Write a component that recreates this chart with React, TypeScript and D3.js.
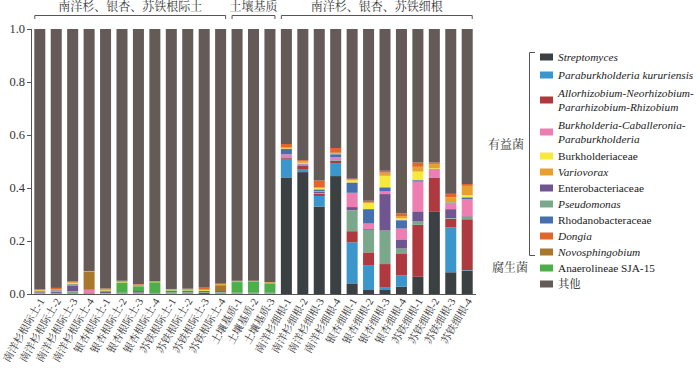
import React from "react";
import * as d3 from "d3";

const samples = [
  "南洋杉根际土-1", "南洋杉根际土-2", "南洋杉根际土-3", "南洋杉根际土-4",
  "银杏根际土-1", "银杏根际土-2", "银杏根际土-3", "银杏根际土-4",
  "苏铁根际土-1", "苏铁根际土-2", "苏铁根际土-3", "苏铁根际土-4",
  "土壤基质-1", "土壤基质-2", "土壤基质-3",
  "南洋杉细根-1", "南洋杉细根-2", "南洋杉细根-3", "南洋杉细根-4",
  "银杏细根-1", "银杏细根-2", "银杏细根-3", "银杏细根-4",
  "苏铁细根-1", "苏铁细根-2", "苏铁细根-3", "苏铁细根-4",
];

const groups = [
  { label: "南洋杉、银杏、苏铁根际土", from: 0, to: 11 },
  { label: "土壤基质", from: 12, to: 14 },
  { label: "南洋杉、银杏、苏铁细根", from: 15, to: 26 },
];

// legend order
const taxa = [
  "Streptomyces",
  "Paraburkholderia kururiensis",
  "Allorhizobium-Neorhizobium-Pararhizobium-Rhizobium",
  "Burkholderia-Caballeronia-Paraburkholderia",
  "Burkholderiaceae",
  "Variovorax",
  "Enterobacteriaceae",
  "Pseudomonas",
  "Rhodanobacteraceae",
  "Dongia",
  "Novosphingobium",
  "Anaerolineae SJA-15",
  "其他",
];
const legendLines = [
  ["Streptomyces"],
  ["Paraburkholderia kururiensis"],
  ["Allorhizobium-Neorhizobium-", "Pararhizobium-Rhizobium"],
  ["Burkholderia-Caballeronia-", "Paraburkholderia"],
  ["Burkholderiaceae"],
  ["Variovorax"],
  ["Enterobacteriaceae"],
  ["Pseudomonas"],
  ["Rhodanobacteraceae"],
  ["Dongia"],
  ["Novosphingobium"],
  ["Anaerolineae SJA-15"],
  ["其他"],
];
const italic = [true, true, true, true, false, true, false, true, false, true, true, false, false];
const colors = [
  "#3b4042", "#3b96cc", "#ae3a3f", "#ee7eb1", "#f7e83c", "#e7a02f", "#6f5690",
  "#7ba78b", "#466fae", "#e0662b", "#a7782c", "#4caf4a", "#645a57",
];

// relative abundance of each taxon per sample (其他 = remainder)
const streptomyces = [0, 0, 0, 0, 0, 0, 0, 0, 0, 0, 0, 0, 0, 0, 0, 0.44, 0.46, 0.33, 0.445, 0.04, 0.015, 0.015, 0.028, 0.065, 0.31, 0.082, 0.088];
const paraburkholderia = [0, 0, 0, 0, 0, 0, 0, 0, 0, 0, 0, 0, 0, 0, 0, 0.07, 0.009, 0.04, 0.049, 0.155, 0.094, 0.009, 0.042, 0, 0, 0.169, 0.002];
const allorhizobium = [0.001, 0.002, 0.002, 0.001, 0.001, 0, 0.001, 0, 0.001, 0, 0.004, 0.002, 0, 0, 0, 0.003, 0.015, 0.009, 0.009, 0.042, 0.048, 0.089, 0.081, 0.196, 0.128, 0.033, 0.192];
const burkCab = [0.001, 0.001, 0.002, 0.012, 0, 0, 0, 0, 0, 0, 0, 0, 0, 0, 0, 0.009, 0.002, 0.003, 0.01, 0.054, 0.021, 0.01, 0.042, 0.113, 0.029, 0.023, 0.065];
const burkholderiaceae = [0.002, 0.001, 0.004, 0, 0.003, 0.002, 0.001, 0.001, 0.002, 0.002, 0.003, 0, 0, 0, 0, 0.002, 0.004, 0.006, 0.002, 0.009, 0.023, 0.044, 0.008, 0.033, 0.003, 0.002, 0.009];
const variovorax = [0.003, 0.004, 0.004, 0.002, 0.004, 0.004, 0.005, 0.003, 0.003, 0.003, 0.004, 0.004, 0.003, 0.003, 0.004, 0.005, 0.006, 0.003, 0.004, 0.003, 0.003, 0.012, 0.008, 0.018, 0.016, 0.018, 0.035];
const enterobacteriaceae = [0.003, 0.004, 0.022, 0.002, 0.006, 0.003, 0.006, 0.002, 0.004, 0.005, 0.004, 0.005, 0.003, 0.003, 0.003, 0.002, 0.002, 0.004, 0.002, 0.013, 0.003, 0.138, 0.034, 0.038, 0.002, 0.034, 0.002];
const pseudomonas = [0.002, 0.002, 0.008, 0.001, 0.003, 0.002, 0.004, 0.002, 0.006, 0.006, 0.003, 0.004, 0.002, 0.002, 0.002, 0.003, 0.001, 0.002, 0.002, 0.078, 0.085, 0.126, 0.02, 0.012, 0.002, 0.002, 0.009];
const rhodanobacteraceae = [0.002, 0.002, 0.002, 0, 0.001, 0, 0, 0, 0, 0, 0, 0, 0, 0, 0, 0.02, 0.002, 0.006, 0.01, 0.038, 0.054, 0.015, 0.031, 0.005, 0.001, 0.002, 0.006];
const dongia = [0.001, 0.004, 0.001, 0.001, 0.002, 0.001, 0.002, 0, 0.001, 0.002, 0.005, 0.002, 0.002, 0.001, 0.001, 0.012, 0.004, 0.025, 0.018, 0.003, 0.006, 0.007, 0.01, 0.016, 0.005, 0.013, 0.007];
const novosphingobium = [0.001, 0.002, 0.001, 0.068, 0, 0, 0, 0, 0, 0, 0, 0.022, 0, 0, 0, 0, 0, 0, 0, 0, 0, 0, 0, 0, 0, 0, 0];
const anaerolineae = [0.001, 0.001, 0.001, 0, 0.001, 0.038, 0.018, 0.04, 0.002, 0.002, 0.001, 0, 0.04, 0.041, 0.035, 0, 0, 0, 0, 0, 0, 0, 0, 0, 0, 0, 0];

const series = [
  streptomyces, paraburkholderia, allorhizobium, burkCab, burkholderiaceae, variovorax,
  enterobacteriaceae, pseudomonas, rhodanobacteraceae, dongia, novosphingobium, anaerolineae,
];

// bottom -> top stacking order (indices into taxa)
const stackOrder = [0, 1, 2, 7, 6, 3, 11, 10, 8, 4, 5, 9, 12];

const yTicks = [0, 0.2, 0.4, 0.6, 0.8, 1.0];

const font = { fontFamily: '"Liberation Serif", "Noto Serif CJK SC", "Noto Sans CJK SC", serif' };

export default function App() {
  const width = 700;
  const height = 379;
  const left = 31;
  const right = 476;
  const top = 29;
  const bottom = 294;

  const table = samples.map((s, i) => {
    const row: any = { sample: s };
    let sum = 0;
    series.forEach((arr, k) => {
      row[taxa[k]] = arr[i];
      sum += arr[i];
    });
    row["其他"] = 1 - sum;
    return row;
  });

  const stack = d3
    .stack()
    .keys(taxa)
    .order(() => stackOrder.slice())(table);

  const x = d3
    .scaleBand()
    .domain(samples)
    .range([left, right])
    .paddingInner(0.33)
    .paddingOuter(0.2);
  const y = d3.scaleLinear().domain([0, 1]).range([bottom, top]);

  const legendY = [57, 75, 100, 132, 156, 172, 188, 204, 220, 236, 252, 268, 284];

  return (
    <svg
      width={width}
      height={height}
      style={{ position: "absolute", left: 0, top: 0, background: "#fff" }}
    >
      {stack.map((layer: any) => {
        const k = taxa.indexOf(layer.key);
        return (
          <g key={layer.key} fill={colors[k]}>
            {layer.map((d: any, i: number) => (
              <rect
                key={i}
                x={x(samples[i])}
                y={y(d[1])}
                width={x.bandwidth()}
                height={Math.max(0, y(d[0]) - y(d[1]))}
              />
            ))}
          </g>
        );
      })}

      {/* axes */}
      <g stroke="#555" strokeWidth={1} fill="none">
        <line x1={left + 0.5} x2={left + 0.5} y1={top} y2={bottom} />
        <line x1={left} x2={right} y1={bottom + 0.5} y2={bottom + 0.5} />
        {yTicks.map((t) => (
          <line key={t} x1={left - 4} x2={left} y1={y(t) + 0.5} y2={y(t) + 0.5} />
        ))}
      </g>
      {yTicks.map((t) => (
        <text key={t} x={left - 6} y={y(t)} dy="0.35em" textAnchor="end" fontSize={12.5} fill="#333" style={font}>
          {t.toFixed(1)}
        </text>
      ))}
      {samples.map((s) => {
        const cx = (x(s) as number) + x.bandwidth() / 2 + 2;
        return (
          <text
            key={s}
            transform={`translate(${cx},${bottom + 5}) rotate(-60)`}
            textAnchor="end"
            dy="0.35em"
            fontSize={10.5}
            fill="#333"
            style={font}
          >
            {s}
          </text>
        );
      })}

      {/* group brackets */}
      {groups.map((g) => {
        const x0 = x(samples[g.from]) as number;
        const x1 = (x(samples[g.to]) as number) + x.bandwidth();
        return (
          <g key={g.label}>
            <path
              d={`M${x0 + 0.5},19 V15.5 H${x1 - 0.5} V19`}
              fill="none"
              stroke="#555"
              strokeWidth={1}
            />
            <text x={(x0 + x1) / 2} y={11} textAnchor="middle" fontSize={12} fill="#333" style={font}>
              {g.label}
            </text>
          </g>
        );
      })}

      {/* legend */}
      <path d="M535,52.5 H529.5 V255.5 H535" fill="none" stroke="#555" strokeWidth={1} />
      <text x={524} y={145} dy="0.35em" textAnchor="end" fontSize={12} fill="#333" style={font}>
        有益菌
      </text>
      <text x={528} y={268} dy="0.35em" textAnchor="end" fontSize={12} fill="#333" style={font}>
        腐生菌
      </text>
      {taxa.map((t, k) => {
        const lines = legendLines[k];
        const cy = legendY[k];
        return (
          <g key={t}>
            <rect x={540} y={cy - 3.5} width={13} height={7} fill={colors[k]} />
            {lines.map((ln, j) => (
              <text
                key={j}
                x={558}
                y={cy + (j - (lines.length - 1) / 2) * 14}
                dy="0.35em"
                fontSize={11.3}
                fontStyle={italic[k] ? "italic" : "normal"}
                fill="#222"
                style={font}
              >
                {ln}
              </text>
            ))}
          </g>
        );
      })}
    </svg>
  );
}
